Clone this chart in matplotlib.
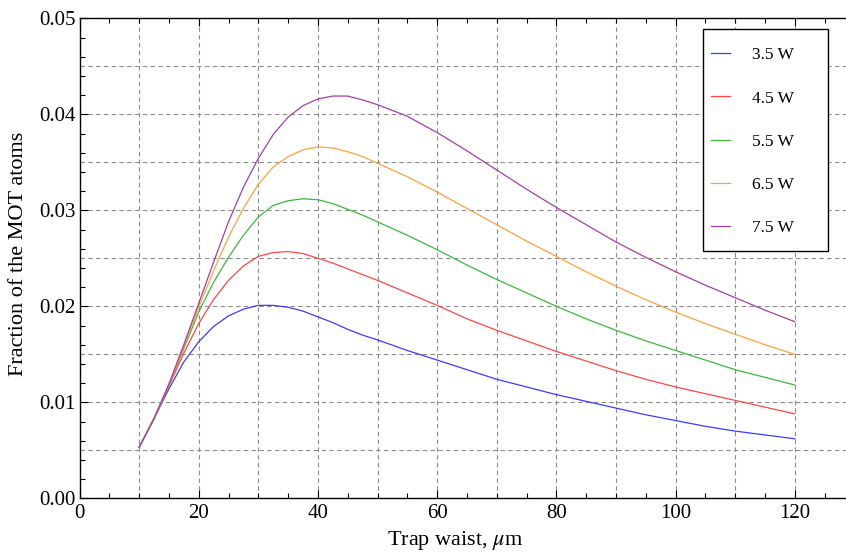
import matplotlib
matplotlib.use("Agg")
import matplotlib.pyplot as plt
from matplotlib.ticker import MultipleLocator, FormatStrFormatter
from matplotlib.patches import Rectangle

plt.rcParams['font.family'] = ['Liberation Serif', 'DejaVu Serif']
plt.rcParams['mathtext.fontset'] = 'stix'

# trap waist in micrometres
waist = [10, 12.5, 15, 17.5, 20, 22.5, 25, 27.5, 30, 32.5, 35, 37.5, 40, 42.5, 45, 47.5, 50,
         55, 60, 65, 70, 75, 80, 85, 90, 95, 100, 105, 110, 115, 120]

# fraction of MOT atoms for each trap power
p35 = [0.0053, 0.0083, 0.0114, 0.0142, 0.0163, 0.0179, 0.0190, 0.0197, 0.0201, 0.0201,
       0.0199, 0.0195, 0.0189, 0.0183, 0.0176, 0.0170, 0.0165,
       0.0154, 0.0144, 0.0134, 0.0124, 0.0116, 0.0108, 0.0101, 0.0094, 0.0087, 0.0081,
       0.0075, 0.0070, 0.0066, 0.0062]
p45 = [0.0053, 0.0083, 0.0117, 0.0151, 0.0182, 0.0207, 0.0227, 0.0242, 0.0252, 0.0256,
       0.0257, 0.0255, 0.0250, 0.0245, 0.0239, 0.0233, 0.0227,
       0.0214, 0.0201, 0.0187, 0.0175, 0.0164, 0.0153, 0.0143, 0.0133, 0.0124, 0.0116,
       0.0109, 0.0102, 0.0095, 0.0088]
p55 = [0.0053, 0.0083, 0.0118, 0.0156, 0.0194, 0.0225, 0.0251, 0.0274, 0.0293, 0.0305,
       0.0310, 0.0312, 0.0311, 0.0307, 0.0301, 0.0295, 0.0288,
       0.0274, 0.0259, 0.0243, 0.0228, 0.0214, 0.0200, 0.0187, 0.0175, 0.0164, 0.0154,
       0.0144, 0.0134, 0.0126, 0.0118]
p65 = [0.0053, 0.0083, 0.0118, 0.0158, 0.0199, 0.0237, 0.0272, 0.0302, 0.0327, 0.0345,
       0.0356, 0.0363, 0.0366, 0.0365, 0.0361, 0.0356, 0.0349,
       0.0335, 0.0319, 0.0302, 0.0285, 0.0268, 0.0252, 0.0236, 0.0221, 0.0207, 0.0194,
       0.0182, 0.0171, 0.0160, 0.0150]
p75 = [0.0053, 0.0083, 0.0119, 0.0160, 0.0203, 0.0246, 0.0288, 0.0324, 0.0354, 0.0379,
       0.0397, 0.0409, 0.0416, 0.0419, 0.0419, 0.0415, 0.0410,
       0.0398, 0.0381, 0.0362, 0.0342, 0.0322, 0.0303, 0.0285, 0.0267, 0.0251, 0.0236,
       0.0222, 0.0209, 0.0196, 0.0184]

labels = ['3.5 W', '4.5 W', '5.5 W', '6.5 W', '7.5 W']
colors = ['#3c3cff', '#ff4646', '#3cb83c', '#ffa040', '#a040a8']

grid_x = [10, 20, 30, 40, 50, 60, 70, 80, 90, 100, 110, 120]
grid_y = [0.005, 0.01, 0.015, 0.02, 0.025, 0.03, 0.035, 0.04, 0.045]

W, H = 846, 559
fig = plt.figure(figsize=(W / 100, H / 100), dpi=100)
x0, x1 = 79.5, 846
ytop, ybot = 18.3, 498.3
ax = fig.add_axes([x0 / W, 1 - ybot / H, (x1 - x0) / W, (ybot - ytop) / H])

# dashed grid
for gx in grid_x:
    ax.axvline(gx, color='#8c8c8c', lw=0.8, ls=(0, (4, 3)), zorder=1)
for gy in grid_y:
    ax.axhline(gy, color='#8c8c8c', lw=0.8, ls=(0, (4, 3)), zorder=1)

for ys, lab, c in zip([p35, p45, p55, p65, p75], labels, colors):
    ax.plot(waist, ys, color=c, lw=0.9, label=lab, zorder=3)

ax.set_xlim(0, (x1 - x0) / 5.96)
ax.set_ylim(0, 0.05)
ax.xaxis.set_major_locator(MultipleLocator(20))
ax.xaxis.set_minor_locator(MultipleLocator(5))
ax.yaxis.set_major_locator(MultipleLocator(0.01))
ax.yaxis.set_minor_locator(MultipleLocator(0.002))
ax.yaxis.set_major_formatter(FormatStrFormatter('%.2f'))
ax.tick_params(which='both', direction='in', top=True, right=False, labelsize=15, width=0.8)
ax.tick_params(which='major', length=6)
ax.tick_params(which='minor', length=3.5)
ax.tick_params(axis='x', pad=4)
ax.tick_params(axis='y', pad=3)
ax.spines['right'].set_visible(False)
for s in ['left', 'bottom', 'top']:
    ax.spines[s].set_linewidth(1.0)

fig.text(455 / W, 1 - 541 / H, r'Trap waist, $\mu$m', ha='center', va='center', fontsize=16)
fig.text(19 / W, 1 - 254 / H, 'Fraction of the MOT atoms', ha='center', va='center',
         rotation=90, fontsize=16)

# legend frame and entries
frame = Rectangle((703.3 / W, 1 - 251 / H), 125 / W, 222.3 / H, transform=fig.transFigure,
                  facecolor='white', edgecolor='black', lw=1.0, zorder=4, clip_on=False)
ax.add_patch(frame)
leg = ax.legend(frameon=False, loc='upper left', bbox_to_anchor=(702.7 / W, 1 - 38.5 / H),
                bbox_transform=fig.transFigure, borderpad=0, handlelength=1.05,
                handletextpad=1.3, labelspacing=1.56, fontsize=12.5)
leg.set_zorder(5)

fig.savefig('out.png', dpi=100)
